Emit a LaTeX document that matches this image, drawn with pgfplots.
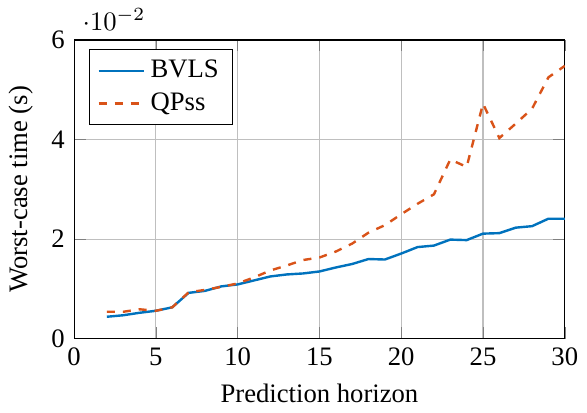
\documentclass[border=0pt]{standalone}
\usepackage{fontspec}
\setmainfont{Liberation Serif}
\usepackage{pgfplots}
\pgfplotsset{compat=1.18}
\definecolor{mblue}{RGB}{0,114,189}
\definecolor{morange}{RGB}{217,83,25}
\begin{document}
\begin{tikzpicture}
\begin{axis}[
  scale only axis,
  width=184pt, height=112pt,
  xmin=0, xmax=30, ymin=0, ymax=0.06,
  xtick={0,5,10,15,20,25,30},
  ytick={0,0.02,0.04,0.06},
  grid=major,
  xlabel={Prediction horizon},
  ylabel={Worst-case time (s)},
  /pgf/number format/assume math mode=true,
  legend pos=north west,
  legend cell align=left,
  legend style={font=\normalsize},
]
\addplot[mblue, line width=0.9pt] coordinates {
(2,0.0044) (3,0.0047) (4,0.0052) (5,0.0056) (6,0.0063) (7,0.0092) (8,0.0096)
(9,0.0105) (10,0.0109) (11,0.0117) (12,0.0125) (13,0.0129) (14,0.0131)
(15,0.0135) (16,0.0143) (17,0.0150) (18,0.0160) (19,0.0159) (20,0.0171)
(21,0.0184) (22,0.0187) (23,0.0199) (24,0.0198) (25,0.0211) (26,0.0212)
(27,0.0223) (28,0.0226) (29,0.0241) (30,0.0241)
};
\addlegendentry{BVLS}
\addplot[morange, line width=0.9pt, dashed] coordinates {
(2,0.0054) (3,0.0054) (4,0.0059) (5,0.0056) (6,0.0063) (7,0.0093) (8,0.0098)
(9,0.0104) (10,0.0111) (11,0.0123) (12,0.0137) (13,0.0147) (14,0.0158)
(15,0.0163) (16,0.0175) (17,0.0191) (18,0.0213) (19,0.0228) (20,0.0250)
(21,0.0271) (22,0.0290) (23,0.0360) (24,0.0345) (25,0.0472) (26,0.0403)
(27,0.0432) (28,0.0462) (29,0.0525) (30,0.0548)
};
\addlegendentry{QPss}
\end{axis}
\path ([yshift=15pt]current axis.north west);
\end{tikzpicture}
\end{document}
